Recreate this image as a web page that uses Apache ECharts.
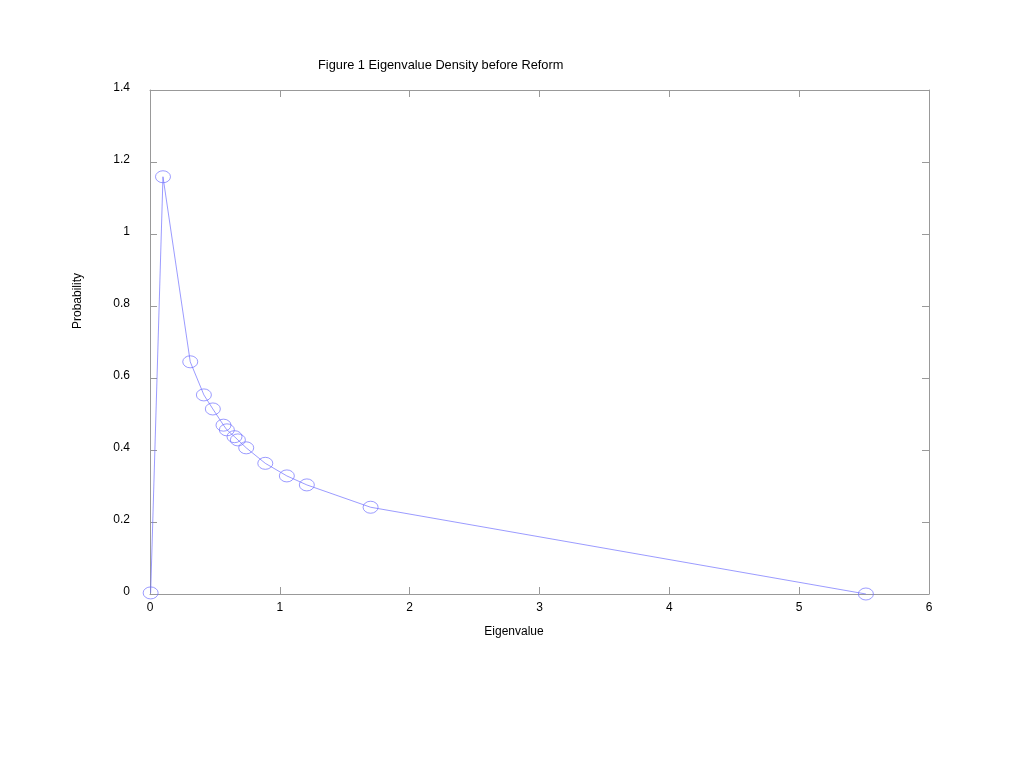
<!DOCTYPE html>
<html><head><meta charset="utf-8">
<script src="https://cdn.jsdelivr.net/npm/echarts@6/dist/echarts.min.js"></script>
<style>html,body{margin:0;padding:0;background:#fff}#c{width:1024px;height:768px}</style>
</head><body><div id="c"></div>
<script>
const eigenvalues = [0.005, 0.1, 0.31, 0.415, 0.484, 0.566, 0.592, 0.651, 0.677, 0.741, 0.888, 1.054, 1.208, 1.699, 5.514];
const probabilities = [0.003, 1.159, 0.645, 0.553, 0.514, 0.469, 0.456, 0.437, 0.428, 0.406, 0.363, 0.328, 0.303, 0.241, 0.0];
const titleText = 'Figure 1 Eigenvalue Density before Reform';
const xName = 'Eigenvalue';
const yName = 'Probability';

const font = 'Liberation Sans, Arial, sans-serif';
const axisCol = '#999999';
const chart = echarts.init(document.getElementById('c'), null, {renderer: 'canvas'});
const baseAxis = {
  axisLine: {show: true, onZero: false, lineStyle: {color: axisCol, width: 1}},
  axisTick: {show: true, inside: true, length: 7, lineStyle: {color: axisCol}},
  splitLine: {show: false},
};
chart.setOption({
  animation: false,
  title: {text: titleText, left: 318, top: 59, padding: 0, textStyle: {fontFamily: font, fontSize: 12.8, fontWeight: 'normal', color: '#000'}},
  grid: {left: 150, right: 95, top: 90, bottom: 174},
  graphic: [
    {type: 'text', x: 514, y: 632, style: {text: xName, font: '12px ' + font, fill: '#000', align: 'center', verticalAlign: 'middle'}},
    {type: 'text', x: 78, y: 301, rotation: Math.PI / 2, style: {text: yName, font: '12px ' + font, fill: '#000', align: 'center', verticalAlign: 'middle'}}
  ],
  xAxis: [
    Object.assign({}, baseAxis, {type: 'value', min: 0, max: 6, interval: 1, position: 'bottom',
      axisLabel: {fontFamily: font, fontSize: 12, color: '#000', margin: 8}}),
    Object.assign({}, baseAxis, {type: 'value', min: 0, max: 6, interval: 1, position: 'top', axisLabel: {show: false}})
  ],
  yAxis: [
    Object.assign({}, baseAxis, {type: 'value', min: 0, max: 1.4, interval: 0.2, position: 'left',
      axisLabel: {fontFamily: font, fontSize: 12, color: '#000', margin: 20, verticalAlign: 'bottom', lineHeight: 4, formatter: v => String(Math.round(v * 10) / 10)}}),
    Object.assign({}, baseAxis, {type: 'value', min: 0, max: 1.4, interval: 0.2, position: 'right', axisLabel: {show: false}})
  ],
  series: [{
    type: 'line',
    xAxisIndex: 0, yAxisIndex: 0,
    data: eigenvalues.map((x, i) => [x, probabilities[i]]),
    symbol: 'circle',
    symbolSize: [15, 12],
    showAllSymbol: true,
    lineStyle: {color: '#7070ff', width: 0.7},
    itemStyle: {color: 'rgba(0,0,0,0)', borderColor: '#7070ff', borderWidth: 0.7},
    clip: false
  }]
});
</script></body></html>
